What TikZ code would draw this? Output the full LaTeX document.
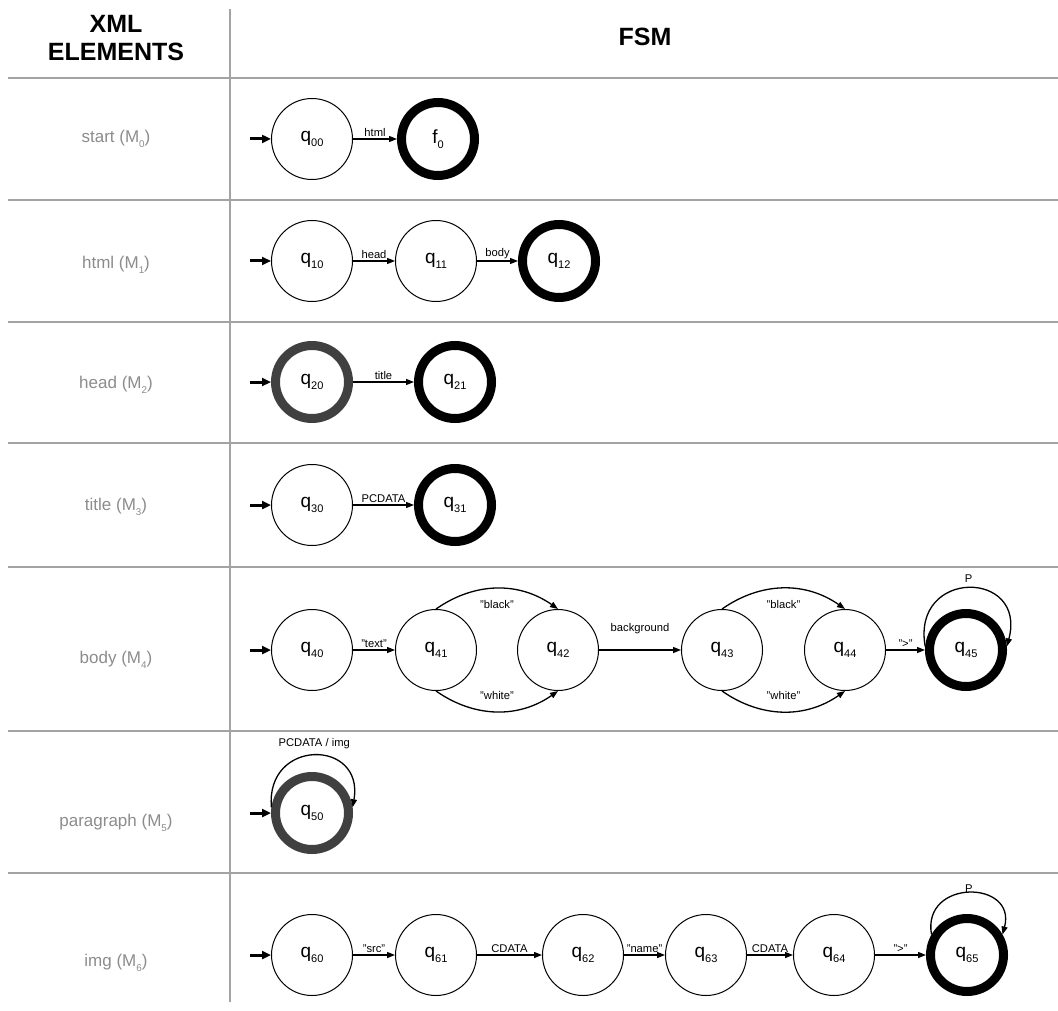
\documentclass[tikz,border=0pt]{standalone}
\usepackage{fontspec}
\setmainfont{Liberation Sans}
\usepackage{tikz}
\usetikzlibrary{arrows.meta,positioning}
\definecolor{rulegray}{HTML}{A3A3A3}
\definecolor{labgray}{HTML}{8C8C8C}
\definecolor{ringgray}{HTML}{404040}
\tikzset{state/.style={draw,circle,minimum size=40.5pt,inner sep=0pt,
  line width=0.5pt,font=\fontsize{9.5}{10}\selectfont},
  acc/.style={state,minimum size=36.5pt,line width=4.5pt},
  accg/.style={acc,draw=ringgray}}
\tikzstyle{tr}   = [draw, line width=0.65pt, -{Triangle[length=4pt,width=3pt]}]
\tikzstyle{ini}  = [draw, line width=1.5pt, -{Triangle[length=4.5pt,width=4pt]}]
\tikzstyle{lbl}  = [font=\fontsize{5.6}{6}\selectfont, inner sep=1pt]
\tikzstyle{row}  = [text=labgray, font=\fontsize{8.5}{10}\selectfont]
\tikzstyle{head} = [font=\fontsize{12.5}{14}\selectfont\bfseries, align=center]
\tikzstyle{rule} = [draw=rulegray, line width=0.8pt]
\newcommand{\sub}[1]{\raisebox{-0.55ex}{\scalebox{0.58}{#1}}}
\newcommand{\qs}[1]{q\sub{#1}}

\begin{document}
\begin{tikzpicture}[x=0.5pt, y=-0.5pt, node distance=62pt]
	\useasboundingbox (0,0) rectangle (1058,1010);

	% table
	\draw[rule, line width=1.4pt] (230,9) -- (230,1002);
	\draw[rule, line width=1.4pt] (8,78) -- (1058,78);
	\foreach \y in {200,322,443,567,731,873}
		\draw[rule] (8,\y) -- (1058,\y);
	\node[head] (xml) at (116,38) {XML\\ELEMENTS};
	\node[head] (fsm) at (645,37) {FSM};

	\node[row] (m0) at (116,139) {start (M\sub{0})};
	\node[row] (m1) at (116,265) {html (M\sub{1})};
	\node[row] (m2) at (116,385) {head (M\sub{2})};
	\node[row] (m3) at (116,507) {title (M\sub{3})};
	\node[row] (m4) at (116,660) {body (M\sub{4})};
	\node[row] (m5) at (116,823) {paragraph (M\sub{5})};
	\node[row] (m6) at (116,963) {img (M\sub{6})};

	% M0
	\node[state] (q00) at (312,139) {\qs{00}};
	\node[acc, right of=q00, node distance=63pt] (f0) {f\sub{0}};
	\coordinate (i0) at ([xshift=-10.5pt]q00.west);
	\draw[ini] (i0) -- (q00);
	\draw[tr] (q00) -- node[lbl,above] {html} (f0);

	% M1
	\node[state] (q10) at (312,261) {\qs{10}};
	\node[state, right of=q10] (q11) {\qs{11}};
	\node[acc, right of=q11, node distance=61.5pt] (q12) {\qs{12}};
	\coordinate (i1) at ([xshift=-10.5pt]q10.west);
	\draw[ini] (i1) -- (q10);
	\draw[tr] (q10) -- node[lbl,above] {head} (q11);
	\draw[tr] (q11) -- node[lbl,above] {body} (q12);

	% M2
	\node[accg] (q20) at (312,382) {\qs{20}};
	\node[acc, right of=q20, node distance=71.5pt] (q21) {\qs{21}};
	\coordinate (i2) at ([xshift=-10.5pt]q20.west);
	\draw[ini] (i2) -- (q20);
	\draw[tr] (q20) -- node[lbl,above] {title} (q21);

	% M3
	\node[state] (q30) at (312,505) {\qs{30}};
	\node[acc, right of=q30, node distance=71.5pt] (q31) {\qs{31}};
	\coordinate (i3) at ([xshift=-10.5pt]q30.west);
	\draw[ini] (i3) -- (q30);
	\draw[tr] (q30) -- node[lbl,above] {PCDATA} (q31);

	% M4
	\node[state] (q40) at (312,650) {\qs{40}};
	\node[state, right of=q40] (q41) {\qs{41}};
	\node[state, right of=q41, node distance=61pt] (q42) {\qs{42}};
	\node[state, right of=q42, node distance=82pt] (q43) {\qs{43}};
	\node[state, right of=q43, node distance=61.5pt] (q44) {\qs{44}};
	\node[acc, right of=q44, node distance=60.5pt] (q45) {\qs{45}};
	\coordinate (i4) at ([xshift=-10.5pt]q40.west);
	\draw[ini] (i4) -- (q40);
	\draw[tr] (q40) -- node[lbl,above] {"text"} (q41);
	\draw[tr] (q41.north) to[bend left=35] node[lbl,below=4.5pt] {"black"} (q42.north);
	\draw[tr] (q41.south) to[bend right=35] node[lbl,above=4.5pt] {"white"} (q42.south);
	\draw[tr] (q42) -- node[lbl,above=7pt] {background} (q43);
	\draw[tr] (q43.north) to[bend left=35] node[lbl,below=4.5pt] {"black"} (q44.north);
	\draw[tr] (q43.south) to[bend right=35] node[lbl,above=4.5pt] {"white"} (q44.south);
	\draw[tr] (q44) -- node[lbl,above] {">"} (q45);
	\draw[tr] (q45.175) to[out=100,in=75,looseness=2.5] node[lbl,above=1.5pt] {P} (q45.5);

	% M5
	\node[accg] (q50) at (312,813) {\qs{50}};
	\coordinate (i5) at ([xshift=-10.5pt]q50.west);
	\draw[ini] (i5) -- (q50);
	\draw[tr] (q50.172) to[out=95,in=80,looseness=2.2] node[lbl,above=2pt] {PCDATA / img} (q50.8);

	% M6
	\node[state] (q60) at (312,955) {\qs{60}};
	\node[state, right of=q60] (q61) {\qs{61}};
	\node[state, right of=q61, node distance=73.5pt] (q62) {\qs{62}};
	\node[state, right of=q62, node distance=61.5pt] (q63) {\qs{63}};
	\node[state, right of=q63, node distance=64pt] (q64) {\qs{64}};
	\node[acc, right of=q64, node distance=66.5pt] (q65) {\qs{65}};
	\coordinate (i6) at ([xshift=-10.5pt]q60.west);
	\draw[ini] (i6) -- (q60);
	\draw[tr] (q60) -- node[lbl,above] {"src"} (q61);
	\draw[tr] (q61) -- node[lbl,above] {CDATA} (q62);
	\draw[tr] (q62) -- node[lbl,above] {"name"} (q63);
	\draw[tr] (q63) -- node[lbl,above] {CDATA} (q64);
	\draw[tr] (q64) -- node[lbl,above] {">"} (q65);
	\draw[tr] (q65.150) to[out=100,in=75,looseness=2.05] node[lbl,above,inner sep=0pt] {P} (q65.30);
\end{tikzpicture}
\end{document}
